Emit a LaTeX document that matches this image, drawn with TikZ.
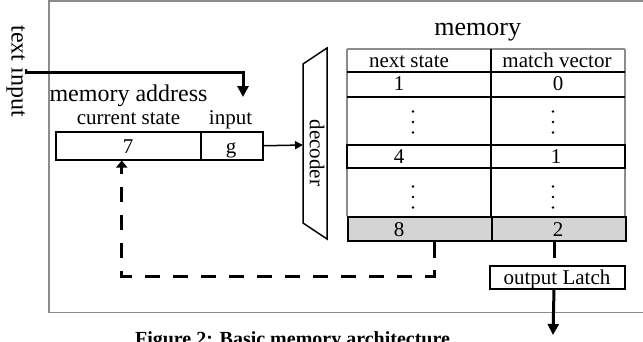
\documentclass[tikz,border=0pt]{standalone}
\usepackage{fontspec}
\setmainfont{Liberation Serif}
\usetikzlibrary{arrows.meta}
\begin{document}
\begin{tikzpicture}[x=1pt,y=-1pt,
  txt/.style={anchor=base, inner sep=0pt, font=\fontsize{21}{21}\selectfont},
  bigtxt/.style={anchor=base, inner sep=0pt, font=\fontsize{24}{24}\selectfont},
  boxline/.style={draw, line width=1.5pt, inner sep=0pt},
  grayline/.style={draw=black!45, line width=1.5pt},
  thickline/.style={draw, line width=2pt},
  bigarrow/.style={line width=3pt, -{Triangle[length=11pt,width=11pt]}},
  dasharrow/.style={line width=3pt, dash pattern=on 15.5pt off 12.5pt, -{Triangle[length=7pt,width=11pt]}},
  stub/.style={line width=3pt, dash pattern=on 15.5pt off 12.5pt},
  shaded/.style={draw, line width=2pt, fill=black!17, inner sep=0pt, anchor=north west, minimum height=24pt}
]
\useasboundingbox (0,0) rectangle (643,341);
% outer frame
\draw[grayline] (49,1) rectangle (660,312.7);

% text input
\node[bigtxt, rotate=-90, anchor=center] (ti) at (17,71) {text input};
\coordinate (tiS) at (25,72);
\coordinate (tiE) at (243,97);
\draw[bigarrow] (tiS) -| (tiE);

% memory address
\node[bigtxt] (mal) at (128.5,101) {memory address};
\node[txt] (csl) at (128.5,124.3) {current state};
\node[txt] (inl) at (230.5,124.3) {input};
\node[boxline, minimum width=145pt, minimum height=28pt, anchor=north west] (cs) at (55,131) {};
\node[boxline, minimum width=62pt, minimum height=28pt, anchor=north west] (in) at (200,131) {};
\node[txt] (csv) at (128,153) {7};
\node[txt] (inv) at (231,153) {g};

% decoder
\draw[line width=1.5pt] (303,64) -- (327,48) -- (327,239) -- (303,223) -- cycle;
\coordinate (dec) at (303,145);
\node[txt, rotate=-90, anchor=center] (decl) at (317,153) {decoder};
\draw[line width=1.5pt, -{Triangle[length=8pt,width=8pt]}] (in.east) -- (dec);

% memory table
\node[anchor=base, inner sep=0pt, font=\fontsize{26}{26}\selectfont] (meml) at (477.7,35) {memory};
\draw[grayline] (347,49) -- (625,49);
\draw[grayline] (347,49) -- (347,145);
\draw[grayline] (625,49) -- (625,145);
\draw[grayline] (347,168) -- (347,216);
\draw[grayline] (625,168) -- (625,216);
\draw[thickline] (347,72) -- (625,72);
\draw[thickline] (347,97) -- (625,97);
\draw[thickline] (347,145) rectangle (625,168);
\node[shaded, minimum width=144pt] (r8a) at (347,216) {};
\node[shaded, minimum width=134pt] (r8b) at (491,216) {};
\draw[line width=1.5pt] (491,49) -- (491,216);

\node[txt] (h1) at (409,67) {next state};
\node[txt] (h2) at (557,67) {match vector};
\node[txt] (a1) at (399,90) {1};
\node[txt] (b1) at (558,90) {0};
\node[txt] (a4) at (399,163) {4};
\node[txt] (b4) at (556,163) {1};
\node[txt] (a8) at (399,236.5) {8};
\node[txt] (b8) at (558,236.5) {2};
\foreach \yy in {111.5,122,132.5,186.5,197,207.5}{
  \fill (413,\yy) circle[radius=1.4pt];
  \fill (553,\yy) circle[radius=1.4pt];
}

% output latch
\node[boxline, minimum width=135pt, minimum height=23pt, anchor=north west] (latch) at (489,265) {};
\node[txt] (latchl) at (557,284.3) {output Latch};
\coordinate (outE) at (553,335);
\draw[stub] ([xshift=-5pt]r8b.south) coordinate (s2) -- (s2 |- latch.north);
\draw[bigarrow] (s2 |- latch.south) -- (outE);

% feedback
\draw[dasharrow] ([xshift=14pt]r8a.south) -- ++(0,34) -| ([xshift=-6.5pt]cs.south);

% caption (cut by the lower edge, as in the reference)
\node[anchor=base, inner sep=0pt, font=\fontsize{20}{20}\selectfont\bfseries] (cap) at (292.5,345.5) {Figure 2: Basic memory architecture};
\end{tikzpicture}
\end{document}
